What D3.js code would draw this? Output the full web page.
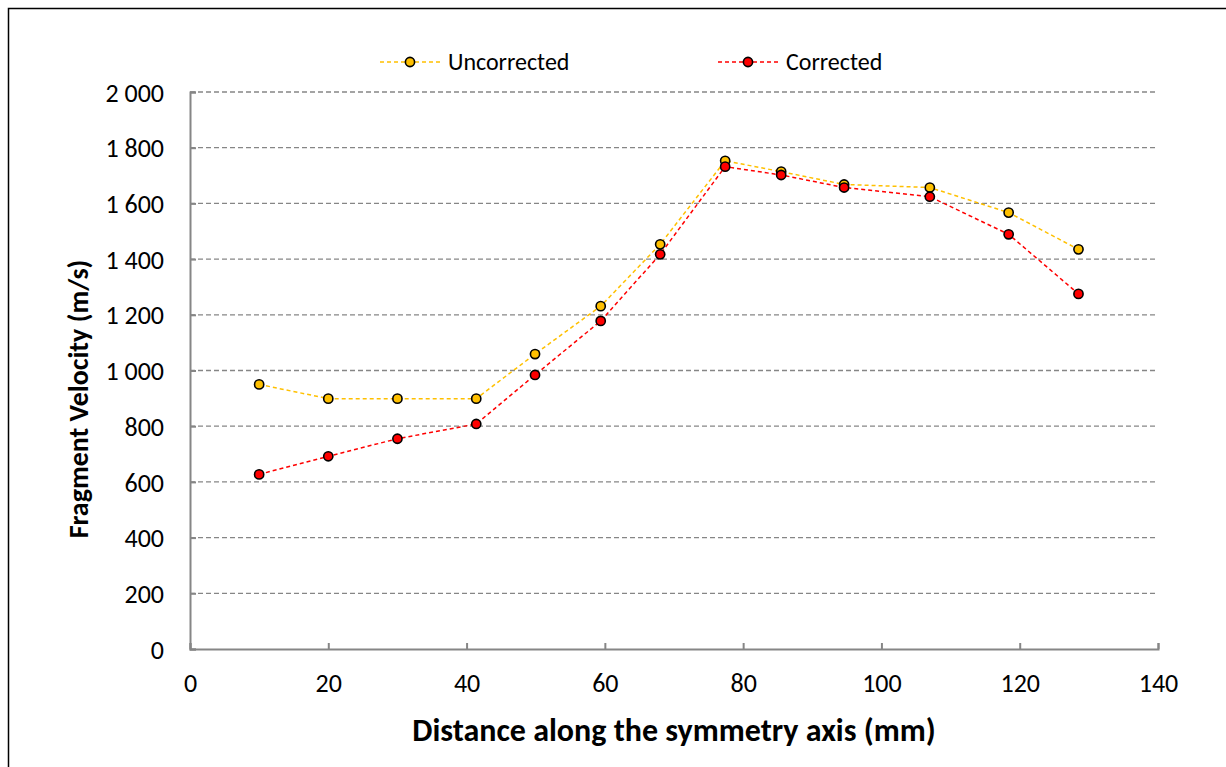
<!DOCTYPE html>
<html>
<head>
<meta charset="utf-8">
<script src="https://cdn.jsdelivr.net/npm/d3@7.9.0/dist/d3.min.js"></script>
<style>
  body { margin: 0; background: #fff; }
  svg { display: block; font-family: Carlito, "Open Sans", sans-serif; }
</style>
</head>
<body>
<svg id="chart" width="1226" height="767"></svg>
<script>
// distance along the symmetry axis (mm)
const distance = [10, 20, 30, 41.4, 49.9, 59.4, 68.0, 77.4, 85.5, 94.6, 107.0, 118.4, 128.5];
// fragment velocity (m/s)
const uncorrected = [950, 899, 899, 899, 1059, 1231, 1453, 1753, 1714, 1668, 1657, 1567, 1435];
const corrected = [627, 692, 755, 808, 984, 1178, 1417, 1732, 1702, 1657, 1624, 1489, 1275];
const xTicks = [0, 20, 40, 60, 80, 100, 120, 140];
const yTicks = [0, 200, 400, 600, 800, 1000, 1200, 1400, 1600, 1800, 2000];

const svg = d3.select('#chart');
const x = d3.scaleLinear().domain([0, 140]).range([190, 1158]);
const y = d3.scaleLinear().domain([0, 2000]).range([649, 92]);
const fmt = d3.formatLocale({ decimal: '.', thousands: ' ', grouping: [3], currency: ['', ''] }).format(',');
const axisGray = '#868686';

// outer chart border
svg.append('rect')
    .attr('x', 8.5).attr('y', 8.5)
    .attr('width', 1240).attr('height', 780)
    .attr('fill', 'none').attr('stroke', '#000').attr('stroke-width', 1.5);

// horizontal gridlines
svg.append('g').selectAll('line')
    .data(yTicks.filter(d => d > 0))
    .join('line')
    .attr('x1', x(0)).attr('x2', x(140))
    .attr('y1', d => y(d)).attr('y2', d => y(d))
    .attr('stroke', axisGray).attr('stroke-width', 1.3)
    .attr('stroke-dasharray', '5,3');

// y axis
const yAxis = svg.append('g')
    .attr('transform', `translate(${x(0)},0)`)
    .call(d3.axisLeft(y).tickValues(yTicks).tickFormat(fmt).tickSize(-6).tickPadding(26));
// x axis
const xAxis = svg.append('g')
    .attr('transform', `translate(0,${y(0)})`)
    .call(d3.axisBottom(x).tickValues(xTicks).tickSize(-6).tickPadding(25));

[yAxis, xAxis].forEach(ax => {
    ax.select('.domain').attr('stroke', axisGray).attr('stroke-width', 2);
    ax.selectAll('.tick line').attr('stroke', axisGray).attr('stroke-width', 2);
    ax.selectAll('.tick text').attr('fill', '#000').style('font-size', '26px')
        .style('font-family', 'Carlito, "Open Sans", sans-serif');
});
yAxis.selectAll('.tick text').attr('dy', '0.35em');

// series
const series = [
    { name: 'Uncorrected', values: uncorrected, color: '#FFC000' },
    { name: 'Corrected', values: corrected, color: '#FF0000' },
];
const line = d3.line().x(d => x(d[0])).y(d => y(d[1]));

series.forEach(s => {
    const pts = distance.map((d, i) => [d, s.values[i]]);
    svg.append('path')
        .attr('d', line(pts))
        .attr('fill', 'none')
        .attr('stroke', s.color).attr('stroke-width', 1.5)
        .attr('stroke-dasharray', '4,3');
});
series.forEach(s => {
    const pts = distance.map((d, i) => [d, s.values[i]]);
    svg.append('g').selectAll('circle')
        .data(pts)
        .join('circle')
        .attr('cx', d => x(d[0])).attr('cy', d => y(d[1]))
        .attr('r', 4.6)
        .attr('fill', s.color).attr('stroke', '#000').attr('stroke-width', 1.6);
});

// legend
const legendPos = [380, 718];
series.forEach((s, i) => {
    const g = svg.append('g').attr('transform', `translate(${legendPos[i]},62)`);
    g.append('line').attr('x1', 0).attr('x2', 60)
        .attr('stroke', s.color).attr('stroke-width', 1.5).attr('stroke-dasharray', '4,3');
    g.append('circle').attr('cx', 30).attr('r', 4.6)
        .attr('fill', s.color).attr('stroke', '#000').attr('stroke-width', 1.6);
    g.append('text').attr('x', 68).attr('y', 8)
        .style('font-size', '24px').text(s.name);
});

// axis titles
svg.append('text')
    .attr('x', 674).attr('y', 741)
    .attr('text-anchor', 'middle')
    .style('font-size', '32px').style('font-weight', 'bold')
    .text('Distance along the symmetry axis (mm)');
svg.append('text')
    .attr('transform', 'translate(88,399) rotate(-90)')
    .attr('text-anchor', 'middle')
    .style('font-size', '28px').style('font-weight', 'bold')
    .text('Fragment Velocity (m/s)');
</script>
</body>
</html>
